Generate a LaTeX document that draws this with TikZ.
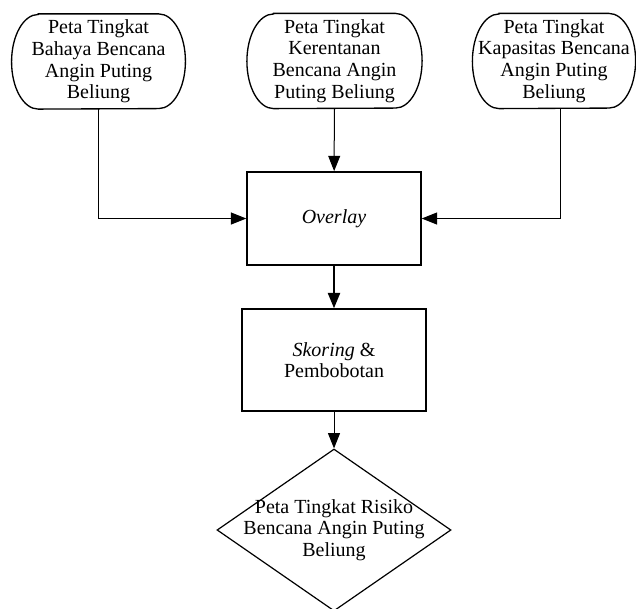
\documentclass[tikz,border=0pt]{standalone}
\usepackage{fontspec}
\setmainfont{Liberation Serif}
\usetikzlibrary{arrows.meta,shapes.geometric}

\begin{document}
\begin{tikzpicture}[
  x=0.75pt,y=-0.75pt,
  font=\fontsize{15}{16.2}\selectfont,
  >={Triangle[length=11.5pt,width=9pt]},
  peta/.style={inner sep=0pt,minimum height=71pt,align=center,
    append after command={\pgfextra{
      \draw[line width=1pt] ([xshift=20pt]\tikzlastnode.north west) -- ([xshift=-20pt]\tikzlastnode.north east)
        arc[start angle=90,end angle=-90,x radius=20pt,y radius=35.5pt]
        -- ([xshift=20pt]\tikzlastnode.south west)
        arc[start angle=270,end angle=90,x radius=20pt,y radius=35.5pt] -- cycle;}}},
  proses/.style={draw,line width=1.1pt,inner sep=0pt,align=center},
  hasil/.style={draw,diamond,line width=0.9pt,inner sep=0pt,minimum width=175.5pt,minimum height=121.5pt},
  alur/.style={->,line width=0.75pt},
  alurtebal/.style={->,line width=1.7pt}
]
  \useasboundingbox (0,0) rectangle (636,608);

  \node[peta,minimum width=130pt] (bahaya) at (98.5,61.5) {Peta Tingkat\\Bahaya Bencana\\Angin Puting\\Beliung};
  \node[peta,minimum width=131pt] (kerentanan) at (334.5,61) {Peta Tingkat\\Kerentanan\\Bencana Angin\\Puting Beliung};
  \node[peta,minimum width=122pt] (kapasitas) at (554,61) {Peta Tingkat\\Kapasitas Bencana\\Angin Puting\\Beliung};

  \node[proses,minimum width=130.5pt,minimum height=70pt] (overlay) at (334,218.5) {\textit{Overlay}};
  \node[proses,minimum width=138pt,minimum height=76.5pt] (skoring) at (334,360) {\textit{Skoring} \&\\Pembobotan};
  \node[hasil,label={[align=center]center:Peta Tingkat Risiko\\Bencana Angin Puting\\Beliung}] (risiko) at (334,530) {};

  \draw[alur] (bahaya.south) |- (overlay.west);
  \draw[alur] (kerentanan) -- (overlay);
  \draw[alur] ([xshift=4.5pt]kapasitas.south) |- (overlay.east);
  \draw[alurtebal] (overlay) -- (skoring);
  \draw[alur] (skoring) -- (risiko);
\end{tikzpicture}
\end{document}
